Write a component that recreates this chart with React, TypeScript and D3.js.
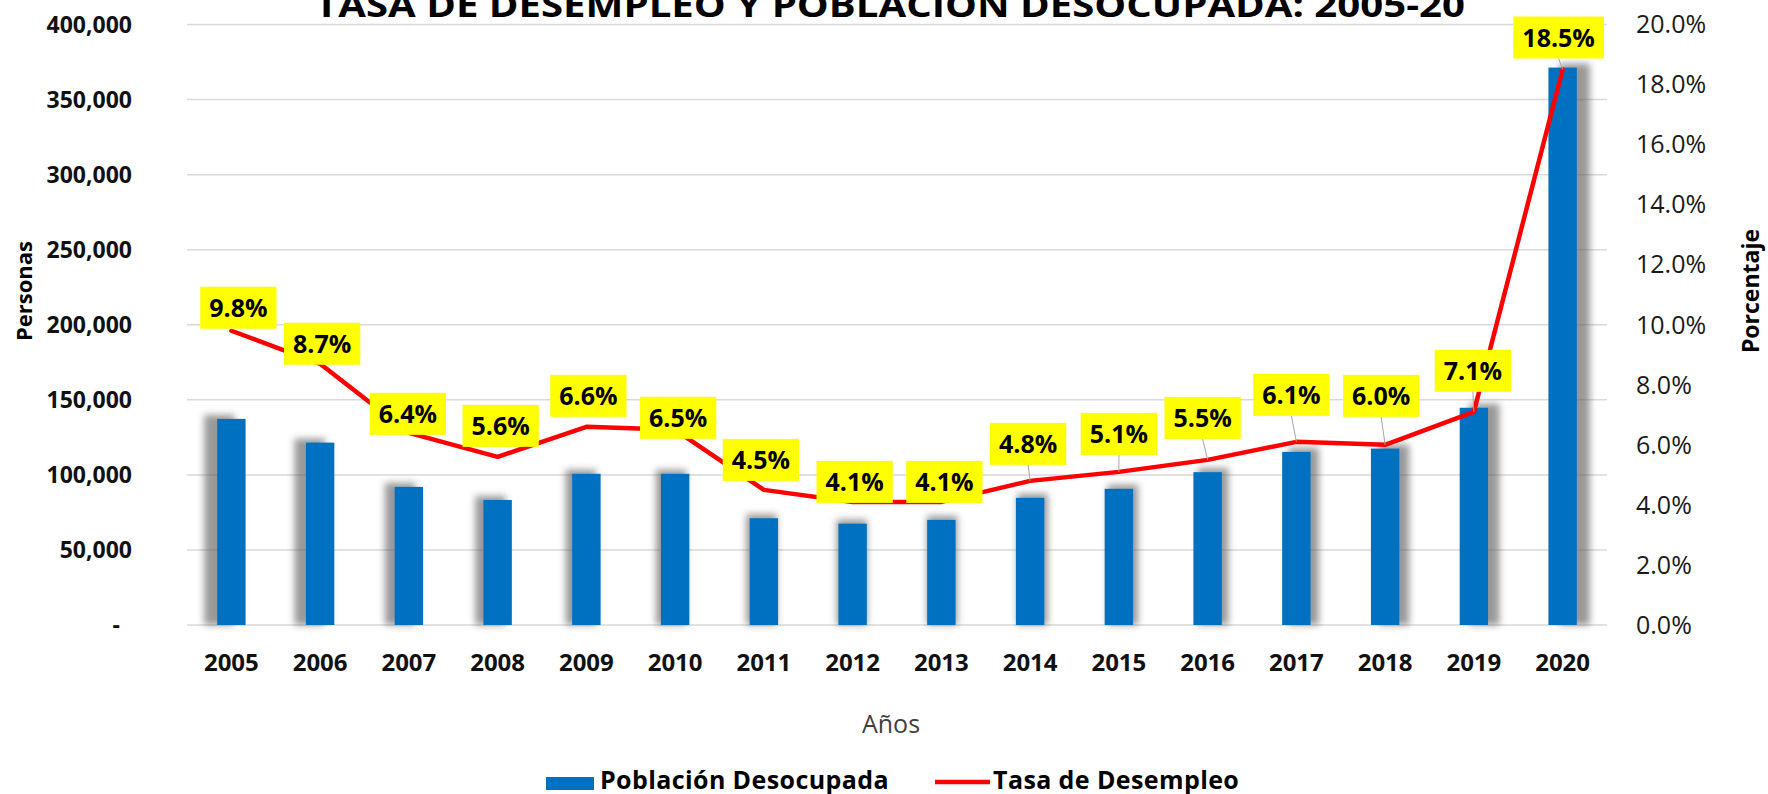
import * as d3 from 'd3';
import { useEffect, useRef } from 'react';

// datos
const years = ['2005', '2006', '2007', '2008', '2009', '2010', '2011', '2012', '2013', '2014', '2015', '2016', '2017', '2018', '2019', '2020'];
const poblacion = [137300, 121500, 92000, 83300, 100700, 100700, 71100, 67500, 70000, 84700, 90700, 101800, 115300, 117500, 144700, 371300];
const tasa = [9.8, 8.7, 6.4, 5.6, 6.6, 6.5, 4.5, 4.1, 4.1, 4.8, 5.1, 5.5, 6.1, 6.0, 7.1, 18.5];
// desplazamiento de cada etiqueta respecto a su punto (colocadas a mano en el original)
const labelOffsets = [[7, -23], [2, -20], [-1, -19], [3, -31], [2, -31], [3, -12], [-3, -30], [2, -20], [3, -20], [-2, -37], [0, -38], [-5, -42], [-5, -47], [-4, -49], [-1, -41], [-4, -32]];

const titulo = 'TASA DE DESEMPLEO Y POBLACIÓN DESOCUPADA: 2005-20';
const FONT = "'Open Sans', 'Liberation Sans', sans-serif";

function App() {
    const svgRef = useRef<SVGSVGElement | null>(null);

    useEffect(() => {
        const width = 1768, height = 794;
        const svg = d3.select(svgRef.current);
        svg.selectAll('*').remove();
        svg.attr('width', width).attr('height', height);

        const [left, right, top, bottom] = [187, 1607, 24.5, 625];

        const x = d3.scaleBand<string>()
            .domain(years)
            .range([left, right])
            .paddingInner(0.68)
            .paddingOuter(0.34);
        const yL = d3.scaleLinear().domain([0, 400000]).range([bottom, top]);
        const yR = d3.scaleLinear().domain([0, 20]).range([bottom, top]);
        const cx = (d: string) => (x(d) as number) + x.bandwidth() / 2;

        // sombra de barras
        const defs = svg.append('defs');
        defs.append('filter').attr('id', 'blur')
            .attr('x', '-50%').attr('y', '-10%').attr('width', '200%').attr('height', '120%')
            .append('feGaussianBlur').attr('stdDeviation', 3.5);

        // ---------- grid ----------
        const grid = svg.append('g');
        grid.selectAll('line')
            .data(yL.ticks(8))
            .join('line')
            .attr('x1', left).attr('x2', right)
            .attr('y1', d => yL(d)).attr('y2', d => yL(d))
            .attr('stroke', '#d9d9d9')
            .attr('stroke-width', 1.5);

        // ---------- ejes ----------
        const fmt = d3.format(',');
        svg.append('g').selectAll('text')
            .data(yL.ticks(8))
            .join('text')
            .attr('x', d => d === 0 ? 120 : 132)
            .attr('y', d => yL(d))
            .attr('dy', '0.35em')
            .attr('text-anchor', 'end')
            .attr('font-family', FONT).attr('font-weight', 700).attr('font-size', 23)
            .attr('fill', '#111')
            .text(d => d === 0 ? '-' : fmt(d));

        svg.append('g').selectAll('text')
            .data(yR.ticks(10))
            .join('text')
            .attr('x', 1636)
            .attr('y', d => yR(d))
            .attr('dy', '0.35em')
            .attr('font-family', FONT).attr('font-size', 25)
            .attr('fill', '#1a1a1a')
            .text(d => d3.format('.1f')(d) + '%');

        svg.append('g').selectAll('text')
            .data(years)
            .join('text')
            .attr('x', d => cx(d))
            .attr('y', 663)
            .attr('dy', '0.35em')
            .attr('text-anchor', 'middle')
            .attr('font-family', FONT).attr('font-weight', 700).attr('font-size', 24)
            .attr('fill', '#111')
            .text(d => d);

        // titulos de ejes
        svg.append('text')
            .attr('transform', 'translate(24,291) rotate(-90)')
            .attr('dy', '0.35em').attr('text-anchor', 'middle')
            .attr('font-family', FONT).attr('font-weight', 700).attr('font-size', 22)
            .text('Personas');
        svg.append('text')
            .attr('transform', 'translate(1751,291) rotate(-90)')
            .attr('dy', '0.35em').attr('text-anchor', 'middle')
            .attr('font-family', FONT).attr('font-weight', 700).attr('font-size', 23)
            .text('Porcentaje');
        svg.append('text')
            .attr('x', 891).attr('y', 724).attr('dy', '0.35em')
            .attr('text-anchor', 'middle')
            .attr('font-family', FONT).attr('font-size', 25)
            .attr('fill', '#404040')
            .text('Años');

        // titulo (cortado arriba como en el original)
        svg.append('text')
            .attr('x', 890).attr('y', 17)
            .attr('text-anchor', 'middle')
            .attr('font-family', FONT).attr('font-weight', 700).attr('font-size', 34)
            .attr('textLength', 1150).attr('lengthAdjust', 'spacingAndGlyphs')
            .attr('fill', '#000')
            .text(titulo);

        // ---------- barras ----------
        const mid = (left + right) / 2;
        const barG = svg.append('g');
        barG.selectAll('rect.shadow')
            .data(years)
            .join('rect')
            .attr('class', 'shadow')
            .attr('x', d => (x(d) as number) + (cx(d) - mid) * 0.018 - 1)
            .attr('y', (d, i) => yL(poblacion[i]) - 4)
            .attr('width', x.bandwidth() + 2)
            .attr('height', (d, i) => bottom - yL(poblacion[i]) + 4)
            .attr('fill', '#555')
            .attr('opacity', 0.6)
            .attr('filter', 'url(#blur)');
        barG.selectAll('rect.bar')
            .data(years)
            .join('rect')
            .attr('class', 'bar')
            .attr('x', d => x(d) as number)
            .attr('y', (d, i) => yL(poblacion[i]))
            .attr('width', x.bandwidth())
            .attr('height', (d, i) => bottom - yL(poblacion[i]))
            .attr('fill', '#0070c0');

        // ---------- linea ----------
        const line = d3.line<number>()
            .x((d, i) => cx(years[i]))
            .y(d => yR(d));
        svg.append('path')
            .datum(tasa)
            .attr('d', line)
            .attr('fill', 'none')
            .attr('stroke', '#ff0000')
            .attr('stroke-width', 4.5)
            .attr('stroke-linejoin', 'round')
            .attr('stroke-linecap', 'round');

        // ---------- etiquetas ----------
        const boxH = 42;
        const labG = svg.append('g');
        tasa.forEach((v, i) => {
            const px = cx(years[i]), py = yR(v);
            const [dx, dy] = labelOffsets[i];
            const bx = px + dx, by = py + dy;
            if (-dy - boxH / 2 >= 11) {
                labG.append('line')
                    .attr('x1', bx).attr('y1', by + boxH / 2)
                    .attr('x2', px).attr('y2', py)
                    .attr('stroke', '#a6a6a6').attr('stroke-width', 1);
            }
            const g = labG.append('g');
            const rect = g.append('rect').attr('fill', '#ffff00');
            const t = g.append('text')
                .attr('x', bx).attr('y', by).attr('dy', '0.36em')
                .attr('text-anchor', 'middle')
                .attr('font-family', FONT).attr('font-weight', 700).attr('font-size', 25)
                .attr('fill', '#000')
                .text(d3.format('.1f')(v) + '%');
            const w = (t.node() as SVGTextElement).getComputedTextLength() + 18;
            rect.attr('x', bx - w / 2).attr('y', by - boxH / 2)
                .attr('width', w).attr('height', boxH);
        });

        // ---------- leyenda ----------
        const leg = svg.append('g');
        leg.append('rect').attr('x', 546).attr('y', 777).attr('width', 48).attr('height', 13).attr('fill', '#0070c0');
        leg.append('text').attr('x', 600).attr('y', 789)
            .attr('font-family', FONT).attr('font-weight', 700).attr('font-size', 25)
            .attr('letter-spacing', 0.4)
            .text('Población Desocupada');
        leg.append('line').attr('x1', 935).attr('x2', 990).attr('y1', 782).attr('y2', 782)
            .attr('stroke', '#ff0000').attr('stroke-width', 4.5);
        leg.append('text').attr('x', 993).attr('y', 789)
            .attr('font-family', FONT).attr('font-weight', 700).attr('font-size', 25)
            .attr('letter-spacing', 0.4)
            .text('Tasa de Desempleo');
    }, []);

    return (
        <svg ref={svgRef} style={{ position: 'fixed', left: 0, top: 0, background: '#fff' }} />
    );
}

export default App;
